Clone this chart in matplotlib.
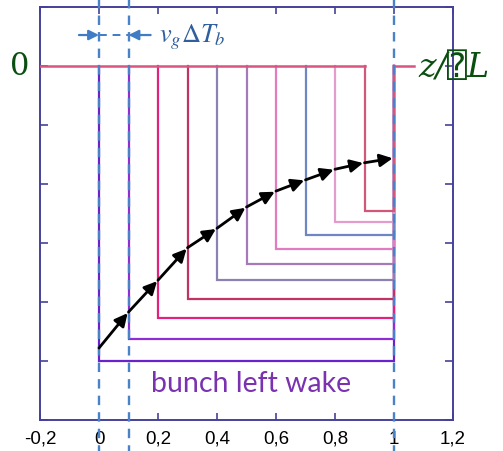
import matplotlib
matplotlib.use("Agg")
import matplotlib.pyplot as plt

# ---- data ----
x_ticks = [-0.2, 0, 0.2, 0.4, 0.6, 0.8, 1, 1.2]
x_tick_labels = ["-0,2", "0", "0,2", "0,4", "0,6", "0,8", "1", "1,2"]
y_ticks = [-6, -5, -4, -3, -2, -1, 0, 1]

step_x = [0.0, 0.1, 0.2, 0.3, 0.4, 0.5, 0.6, 0.7, 0.8, 0.9]
step_level = [-5.0, -4.63, -4.27, -3.95, -3.63, -3.36, -3.10, -2.86, -2.64, -2.46]
step_colors = ["#6a22cc", "#8e2fd6", "#e0237c", "#c23262", "#8d80b2",
               "#a67ab8", "#e27cc0", "#6e86c2", "#e49ccc", "#d2587a"]

curve_x = [0.0, 0.1, 0.2, 0.3, 0.4, 0.5, 0.6, 0.7, 0.8, 0.9, 1.0]
curve_y = [-4.78, -4.17, -3.63, -3.08, -2.75, -2.39, -2.12, -1.93, -1.75, -1.64, -1.56]

marker_lines = [0.0, 0.1, 1.0]

# ---- figure ----
fig = plt.figure(figsize=(5.03, 4.52), dpi=100)
ax = fig.add_axes([40/503, 1-421/452, 413/503, 413/452])
ax.set_xlim(-0.2, 1.2)
ax.set_ylim(-6, 1)

spine_col = "#45419a"
for s in ax.spines.values():
    s.set_color(spine_col)
    s.set_linewidth(1.4)
ax.set_xticks(x_ticks)
ax.set_xticklabels(x_tick_labels, fontsize=13.5, family="Liberation Sans")
ax.set_yticks(y_ticks)
ax.set_yticklabels([])
ax.tick_params(direction="in", length=5, width=1.2, color=spine_col,
               top=True, right=True, pad=7)
ax.tick_params(axis="y", length=6)
fig.patch.set_facecolor("white")

# step curves (wake region for each bunch position)
for xs, lvl, c in zip(step_x, step_level, step_colors):
    ax.plot([xs, xs, 1.0, 1.0], [0, lvl, lvl, 0], color=c, lw=1.6,
            solid_joinstyle="miter", zorder=3)
# top line and right stub
ax.plot([-0.2, step_x[-1]], [0, 0], color="#d9557f", lw=1.8, zorder=4)
ax.plot([1.0, 1.068], [0, 0], color="#d9557f", lw=1.8, zorder=4)

# dashed blue marker lines (extend beyond axes)
for xm in marker_lines:
    ax.plot([xm, xm], [1.15, -6.55], color="#4a82c8", lw=1.7,
            dashes=(4, 3), clip_on=False, zorder=5)

# black curve with arrowheads
for i in range(len(curve_x) - 1):
    ax.annotate("", xy=(curve_x[i+1], curve_y[i+1]), xytext=(curve_x[i], curve_y[i]),
                arrowprops=dict(arrowstyle="-|>", color="black", lw=2.0,
                                mutation_scale=19, shrinkA=0, shrinkB=1),
                zorder=6)

# v_g Delta T_b annotation
ya = 0.525
ax.annotate("", xy=(0.0, ya), xytext=(-0.068, ya),
            arrowprops=dict(arrowstyle="-|>", color="#3f7cc4", lw=1.6,
                            mutation_scale=15, shrinkA=0, shrinkB=0),
            annotation_clip=False)
ax.annotate("", xy=(0.1, ya), xytext=(0.175, ya),
            arrowprops=dict(arrowstyle="-|>", color="#3f7cc4", lw=1.6,
                            mutation_scale=15, shrinkA=0, shrinkB=0),
            annotation_clip=False)
ax.plot([0.0, 0.1], [ya, ya], color="#3f7cc4", lw=1.4, dashes=(4, 3))
ax.text(0.205, ya - 0.02, r"$v_g\Delta T_b$", color="#2f5f9e", fontsize=19,
        va="center", ha="left", math_fontfamily="stix")

# labels
ax.text(-0.268, 0, "0", color="#0b4f10", fontsize=22, family="DejaVu Serif",
        ha="center", va="center", clip_on=False)
ax.text(1.082, -0.02, "z/\u2370L", color="#0b4f10", fontsize=24,
        family=["DejaVu Serif", "DejaVu Sans", "DejaVu Sans Mono"],
        style="italic", ha="left", va="center", clip_on=False)
ax.text(0.514, -5.37, "bunch left wake", color="#7a32b0", fontsize=20.5,
        family="Lato", ha="center", va="center")

fig.savefig("out.png", dpi=100, facecolor="white")
